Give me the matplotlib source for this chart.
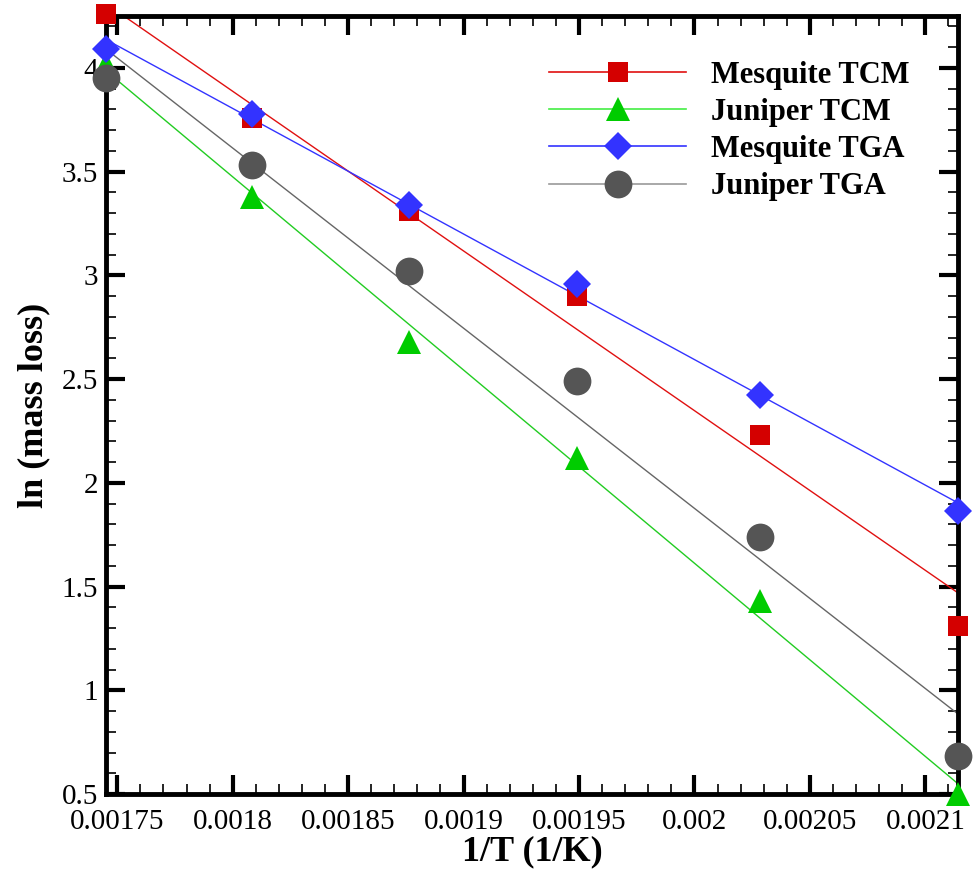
import numpy as np
import matplotlib
matplotlib.use("Agg")
import matplotlib.pyplot as plt
from matplotlib.ticker import MultipleLocator, FixedLocator
from matplotlib.lines import Line2D

# Data
temps_K = [573, 553, 533, 513, 493, 473]
inv_T = [1.0 / t for t in temps_K]
mesquite_tcm = [4.26, 3.76, 3.31, 2.90, 2.23, 1.31]
juniper_tcm = [4.02, 3.38, 2.68, 2.12, 1.43, 0.50]
mesquite_tga = [4.09, 3.78, 3.34, 2.96, 2.425, 1.865]
juniper_tga = [3.953, 3.53, 3.02, 2.49, 1.738, 0.685]

series_names = ["Mesquite TCM", "Juniper TCM", "Mesquite TGA", "Juniper TGA"]
series_values = [mesquite_tcm, juniper_tcm, mesquite_tga, juniper_tga]
marker_colors = ["#d40000", "#00cc00", "#3333ff", "#555555"]
line_colors = ["#e01010", "#22cc22", "#3333ff", "#666666"]
legend_line_colors = ["#e01010", "#44ee44", "#3333ff", "#999999"]
markers = ["s", "^", "D", "o"]
msizes = [14.5, 17, 14.5, 20]

x_tick_labels = ["0.00175", "0.0018", "0.00185", "0.0019", "0.00195", "0.002", "0.00205", "0.0021"]
y_tick_labels = ["0.5", "1", "1.5", "2", "2.5", "3", "3.5", "4"]

serif = ["Liberation Serif", "DejaVu Serif"]

fig = plt.figure(figsize=(9.74, 8.71), dpi=100)
ax = fig.add_axes([0.109, 0.0884, 0.9836 - 0.109, 0.9816 - 0.0884])

x = np.array(inv_T)
xl = np.array([x.min(), x.max()])
handles = []
for name, vals, mc, lc, llc, mk, ms in zip(series_names, series_values, marker_colors,
                                          line_colors, legend_line_colors, markers, msizes):
    y = np.array(vals)
    p = np.polyfit(x, y, 1)
    ax.plot(xl, np.polyval(p, xl), color=lc, lw=1.0, zorder=2)
    ax.plot(x, y, linestyle="none", marker=mk, markersize=ms, color=mc,
            markeredgewidth=0, clip_on=False, zorder=3)
    handles.append(Line2D([], [], color=llc, lw=1.2, marker=mk, markersize=ms,
                          markerfacecolor=mc, markeredgewidth=0, label=name))

ax.set_xlim(x.min(), x.max())
ax.set_ylim(0.5, 4.25)

xt = [float(s) for s in x_tick_labels]
yt = [float(s) for s in y_tick_labels]
ax.xaxis.set_major_locator(FixedLocator(xt))
ax.set_xticklabels(x_tick_labels)
ax.xaxis.set_minor_locator(MultipleLocator(0.00001))
ax.yaxis.set_major_locator(FixedLocator(yt))
ax.set_yticklabels(y_tick_labels)
ax.yaxis.set_minor_locator(MultipleLocator(0.1))

ax.tick_params(which="both", direction="in", top=True, right=True)
ax.tick_params(which="major", length=14, width=3, labelsize=21)
ax.tick_params(axis="x", which="major", pad=11)
ax.tick_params(axis="y", which="major", pad=6)
ax.tick_params(which="minor", length=7, width=1.2)
for lab in ax.get_xticklabels() + ax.get_yticklabels():
    lab.set_family(serif)

for s in ax.spines.values():
    s.set_linewidth(3.5)

ax.set_xlabel("1/T (1/K)", fontsize=26, fontweight="bold", family=serif, labelpad=0)
ax.set_ylabel("ln (mass loss)", fontsize=26, fontweight="bold", family=serif, labelpad=8)

leg = ax.legend(handles=handles, loc="upper right", bbox_to_anchor=(0.975, 0.978),
                frameon=False, handlelength=4.5, handletextpad=0.8, labelspacing=0.27,
                prop={"family": serif, "weight": "bold", "size": 22})

fig.savefig("out.png", dpi=100)
